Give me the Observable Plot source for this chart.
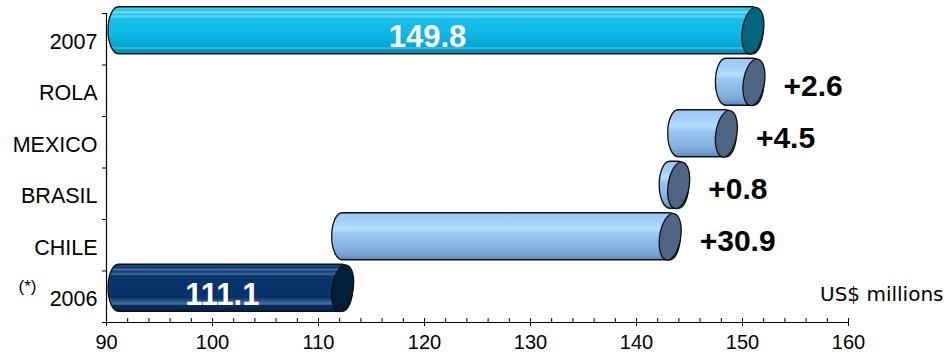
<!DOCTYPE html>
<html>
<head>
<meta charset="utf-8">
<script src="https://cdn.jsdelivr.net/npm/d3@7"></script>
<script src="https://cdn.jsdelivr.net/npm/@observablehq/plot@0.6"></script>
<style>
  html, body { margin: 0; padding: 0; background: #ffffff; }
  #chart { width: 949px; height: 354px; }
</style>
</head>
<body>
<div id="chart"></div>
<script>
// ---- data ----
const categories = ["2007", "ROLA", "MEXICO", "BRASIL", "CHILE", "2006"]; // top to bottom
const base2006 = 111.1;
const total2007 = 149.8;
const stepNames = ["CHILE", "BRASIL", "MEXICO", "ROLA"];   // waterfall order (bottom to top)
const stepValues = [30.9, 0.8, 4.5, 2.6];
const axisMin = 90;
const axisMax = 160;
const majorTicks = [90, 100, 110, 120, 130, 140, 150, 160];
const unitLabel = "US$ millions";

// ---- build rows for the waterfall ----
const rows = [];
rows.push({cat: "2006", i: categories.indexOf("2006"), x1: axisMin, x2: base2006, kind: "base", label: String(base2006)});
let run = base2006;
stepNames.forEach((name, k) => {
  const v = stepValues[k];
  rows.push({cat: name, i: categories.indexOf(name), x1: run, x2: +(run + v).toFixed(1), kind: "step", label: "+" + v});
  run = +(run + v).toFixed(1);
});
rows.push({cat: "2007", i: categories.indexOf("2007"), x1: axisMin, x2: total2007, kind: "total", label: String(total2007)});

const fills = {total: "url(#gTotal)", step: "url(#gStep)", base: "url(#gBase)"};
const capFills = {total: "#00657f", step: "#4e6584", base: "#031d3a"};

// cylinder geometry (pixels)
const RX = 10.5, RY = 23.5, DX = 12.5, DY = -8.5, TILT = 9 * Math.PI / 180;

const capSymbol = {
  draw(context) {
    const k = 0.5523, c = Math.cos(TILT), s = Math.sin(TILT);
    const P = (x, y) => [x * c - y * s, x * s + y * c];
    const pts = [
      [RX, 0],
      [RX, k * RY], [k * RX, RY], [0, RY],
      [-k * RX, RY], [-RX, k * RY], [-RX, 0],
      [-RX, -k * RY], [-k * RX, -RY], [0, -RY],
      [k * RX, -RY], [RX, -k * RY], [RX, 0]
    ].map(([x, y]) => P(x, y));
    context.moveTo(...pts[0]);
    for (let j = 1; j < pts.length; j += 3) {
      context.bezierCurveTo(...pts[j], ...pts[j + 1], ...pts[j + 2]);
    }
    context.closePath();
  }
};

const marks = [];
for (const kind of ["base", "step", "total"]) {
  const data = rows.filter(d => d.kind === kind);
  marks.push(Plot.rect(data, {
    x1: "x1", x2: "x2",
    y1: d => d.i - 0.5, y2: d => d.i + 0.5,
    insetLeft: -RX, insetRight: -RX, insetTop: 2.25, insetBottom: 2.25,
    rx: RX, ry: RY,
    dx: DX, dy: DY,
    fill: fills[kind], stroke: "#111", strokeWidth: 1.3
  }));
  marks.push(Plot.dot(data, {
    x: "x2", y: "i", r: 10, symbol: capSymbol,
    dx: DX, dy: DY,
    fill: capFills[kind], stroke: "#111", strokeWidth: 1.3
  }));
}

const chart = Plot.plot({
  width: 949,
  height: 354,
  marginLeft: 106,
  marginRight: 101,
  marginTop: 13,
  marginBottom: 32,
  style: {fontFamily: "'Liberation Sans', Arial, sans-serif", fontSize: "20px", color: "#000", background: "#fff"},
  x: {domain: [axisMin, axisMax], label: null},
  y: {domain: [-0.5, 5.5], reverse: true, label: null},
  marks: [
    ...marks,
    // totals labels
    Plot.text(rows.filter(d => d.kind !== "step"), {
      x: d => (d.x1 + d.x2) / 2, y: "i", text: "label",
      fill: "white", fontWeight: "bold", fontSize: 31, dx: 4, dy: -2
    }),
    // increment labels
    Plot.text(rows.filter(d => d.kind === "step"), {
      x: "x2", y: "i", text: "label", textAnchor: "start",
      fill: "black", fontWeight: "bold", fontSize: 30, dx: 42, dy: -4
    }),
    // axes
    Plot.ruleY([5.5], {stroke: "#000", strokeWidth: 1.2}),
    Plot.ruleX([axisMin], {stroke: "#000", strokeWidth: 1.2}),
    Plot.axisX({ticks: majorTicks, tickSize: 4, tickPadding: 8, fontSize: 20, label: null, stroke: "#000"}),
    Plot.axisX({ticks: d3.range(axisMin, axisMax + 1, 2), tickSize: -4, tickFormat: () => "", label: null, stroke: "#000"}),
    Plot.axisY({ticks: d3.range(categories.length), tickSize: 0, tickPadding: 9, tickFormat: i => categories[i], fontSize: 21.5, dy: 2.5, label: null}),
    Plot.axisY({ticks: d3.range(-0.5, categories.length, 1), tickSize: 4, tickFormat: () => "", label: null, stroke: "#000"}),
    Plot.text(["(*)"], {x: axisMin, y: categories.indexOf("2006"), dx: -70, dy: -10, textAnchor: "end", fontSize: 17}),
    Plot.text([unitLabel], {frameAnchor: "bottom-right", dx: 95, dy: -22, textAnchor: "end", fontSize: 20, fontFamily: "'DejaVu Sans', Verdana, sans-serif"})
  ]
});

// gradients for cylinder bodies
const defs = d3.select(chart).insert("defs", ":first-child");
function grad(id, stops) {
  const g = defs.append("linearGradient").attr("id", id).attr("x1", 0).attr("y1", 0).attr("x2", 0).attr("y2", 1);
  stops.forEach(([o, c]) => g.append("stop").attr("offset", o).attr("stop-color", c));
}
grad("gTotal", [[0, "#3fcdf5"], [0.08, "#2bc6f0"], [0.12, "#7fe0fb"], [0.15, "#22c3ef"], [0.22, "#5ad6f8"], [0.25, "#18bfeb"], [0.6, "#0db6e3"], [0.85, "#05a6d4"], [0.88, "#4fc7ea"], [0.9, "#049fcd"], [1, "#0086ad"]]);
grad("gStep", [[0, "#9cc6f2"], [0.2, "#a6d0fa"], [0.35, "#b6deff"], [0.45, "#9bc6f1"], [0.7, "#8ab5e5"], [0.88, "#7aa3d5"], [1, "#5d86b8"]]);
grad("gBase", [[0, "#1b4a80"], [0.08, "#0c3a72"], [0.12, "#5c82ac"], [0.14, "#0b3870"], [0.22, "#3f6a98"], [0.24, "#0a366d"], [0.7, "#073068"], [0.85, "#4a73a0"], [0.87, "#062c5f"], [1, "#04234c"]]);

document.getElementById("chart").appendChild(chart);
</script>
</body>
</html>
